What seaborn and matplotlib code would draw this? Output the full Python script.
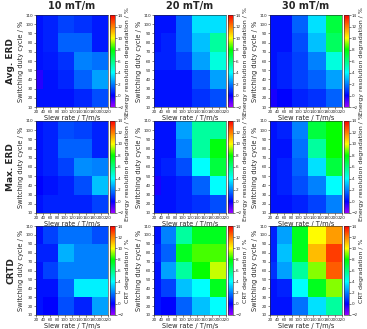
import numpy as np
import pandas as pd
import matplotlib
matplotlib.use("Agg")
import matplotlib.pyplot as plt
import seaborn as sns
from matplotlib.colors import LinearSegmentedColormap

sns.set_theme(style="ticks")
plt.rcParams['font.family'] = ['DejaVu Sans']

# grid of the measurements
slew = [20, 60, 100, 150, 200]          # T/m/s
duty = [20, 40, 60, 80, 100]            # %
slew_edges = [20, 40, 80, 125, 175, 220]
duty_edges = [10, 30, 50, 70, 90, 110]

gradients = ["10 mT/m", "20 mT/m", "30 mT/m"]
metrics = ["Avg. ERD", "Max. ERD", "CRTD"]
cbar_labels = ["Energy resolution degradation / %",
               "Energy resolution degradation / %",
               "CRT degradation / %"]

# values in %, one row per duty cycle (20 -> 100), one column per slew rate
avg_10 = [[0.3, 0.3, 0.3, 0.6, 1.2],
          [-0.5, 0.3, 0.6, 1.5, 2.5],
          [0.3, 0.4, 0.8, 2.0, 1.8],
          [0.3, 0.5, 1.5, 1.5, 0.4],
          [0.3, 0.5, 1.0, 0.8, 0.4]]
avg_20 = [[0.3, 0.3, 0.3, 0.8, 1.2],
          [0.3, 0.3, 0.3, 1.2, 2.5],
          [0.5, 0.5, 1.0, 2.5, 4.5],
          [0.3, 0.5, 1.5, 3.0, 5.5],
          [0.3, 0.3, 1.5, 3.5, 3.5]]
avg_30 = [[-0.3, 0.0, 0.5, 0.8, 1.5],
          [0.3, 0.5, 1.0, 1.5, 2.5],
          [0.3, 0.5, 1.0, 2.0, 4.5],
          [0.3, 0.3, 1.2, 3.0, 6.5],
          [0.3, 0.3, 1.5, 3.5, 7.0]]
max_10 = [[0.3, 0.5, 0.5, 0.5, 1.0],
          [0.0, 0.3, 0.5, 1.2, 3.0],
          [0.3, 0.5, 1.0, 2.2, 2.0],
          [0.3, 0.5, 1.5, 1.5, 0.5],
          [0.3, 0.5, 1.2, 1.0, 0.5]]
max_20 = [[0.3, 0.3, 0.5, 0.8, 1.2],
          [-0.3, 0.3, 0.5, 1.5, 4.0],
          [0.3, 0.5, 1.2, 4.0, 7.0],
          [0.3, 0.3, 2.0, 5.5, 7.8],
          [0.3, 0.3, 2.5, 5.5, 5.5]]
max_30 = [[0.3, 0.3, 0.5, 1.0, 2.0],
          [0.3, 0.5, 1.2, 2.0, 4.0],
          [0.3, 0.5, 1.5, 3.5, 7.0],
          [0.3, 0.3, 1.8, 5.5, 8.0],
          [0.3, 0.5, 2.0, 7.0, 8.0]]
crt_10 = [[0.3, 0.0, 1.2, 0.5, 2.5],
          [0.3, 0.3, 1.5, 3.8, 3.8],
          [0.3, 1.0, 2.0, 2.0, 2.0],
          [0.5, 0.5, 2.8, 2.0, 2.0],
          [0.3, 1.0, 1.8, 1.8, 1.2]]
crt_20 = [[0.3, 0.0, 1.5, 3.0, 4.0],
          [0.3, 1.0, 3.0, 4.0, 7.5],
          [0.3, 2.5, 5.5, 8.0, 9.5],
          [0.5, 1.5, 7.5, 8.5, 8.5],
          [0.3, 2.0, 5.5, 7.5, 7.5]]
crt_30 = [[0.3, 0.3, 1.8, 3.5, 5.5],
          [0.3, 0.5, 4.0, 7.5, 9.0],
          [0.8, 2.5, 5.5, 9.0, 12.5],
          [0.5, 3.0, 7.5, 11.0, 13.0],
          [0.5, 2.5, 7.5, 10.0, 11.5]]

panels = [[avg_10, avg_20, avg_30],
          [max_10, max_20, max_30],
          [crt_10, crt_20, crt_30]]

vmin, vmax = -2, 14
stops = [(-2, "#9900ff"), (0, "#0000ff"), (2, "#0080ff"), (4, "#00ffff"),
         (8, "#00ff00"), (10, "#ffff00"), (12, "#ff8000"), (14, "#ff0000")]
cmap = LinearSegmentedColormap.from_list(
    "erd", [((v - vmin) / (vmax - vmin), c) for v, c in stops])

W, H = 367, 329
fig = plt.figure(figsize=(W / 100, H / 100), dpi=100)

def px_axes(left, top, right, bottom):
    return fig.add_axes([left / W, 1 - bottom / H, (right - left) / W, (bottom - top) / H])

col_x = [36, 154, 270]
row_y = [(15, 107), (121, 213), (226, 315)]
ax_w = 72

for r in range(3):
    for c in range(3):
        top, bottom = row_y[r]
        left = col_x[c]
        ax = px_axes(left, top, left + ax_w, bottom)
        cax = px_axes(left + ax_w + 2, top, left + ax_w + 7, bottom)
        vals = panels[r][c]
        df = pd.DataFrame([(s, d, v) for d, row in zip(duty, vals)
                           for s, v in zip(slew, row)],
                          columns=["slew", "duty", "value"])
        sns.histplot(data=df, x="slew", y="duty", weights="value",
                     bins=[slew_edges, duty_edges], thresh=None,
                     cmap=cmap, vmin=vmin, vmax=vmax, ax=ax,
                     cbar=True, cbar_ax=cax)
        ax.set_xlim(20, 220)
        ax.set_ylim(10, 110)
        ax.set_xticks(range(20, 221, 20))
        ax.set_yticks(range(10, 111, 10))
        ax.tick_params(labelsize=3, length=1.2, width=0.4, pad=1)
        for sp in ax.spines.values():
            sp.set_linewidth(0.4)
        ax.set_xlabel("Slew rate / T/m/s", fontsize=4.8, labelpad=1)
        ax.set_ylabel("Switching duty cycle / %", fontsize=4.8, labelpad=1)
        cax.set_yticks(range(-2, 15, 2))
        cax.tick_params(labelsize=3, length=1.2, width=0.4, pad=1)
        cax.set_ylabel(cbar_labels[r], fontsize=4.5, labelpad=0.5)
        for sp in cax.spines.values():
            sp.set_linewidth(0.4)
        if r == 0:
            ax.set_title(gradients[c], fontsize=7, fontweight="bold", pad=4)

for r in range(3):
    top, bottom = row_y[r]
    fig.text(11 / W, 1 - (top + bottom) / 2 / H, metrics[r], rotation=90,
             fontsize=6.5, fontweight="bold", ha="center", va="center")

fig.savefig("out.png", dpi=100)
